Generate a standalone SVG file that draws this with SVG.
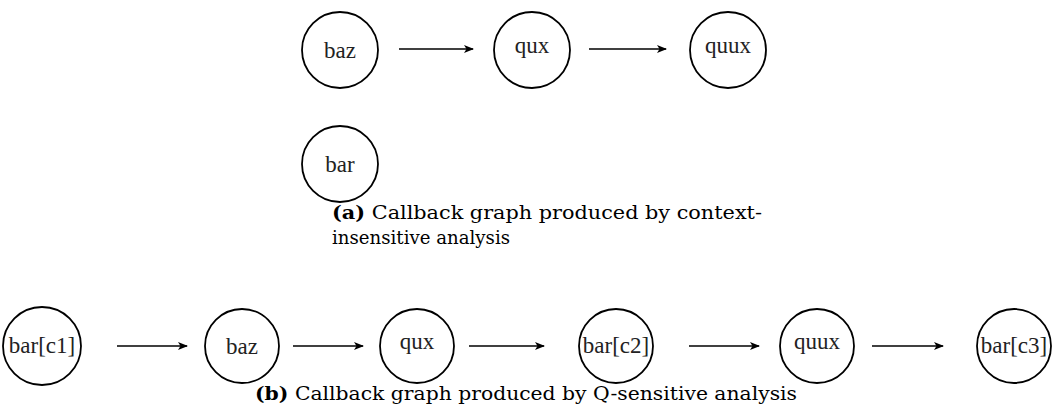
<svg xmlns="http://www.w3.org/2000/svg" width="1057" height="412" viewBox="0 0 1057 412">
<style>
.node circle { fill: #fff; stroke: #000; stroke-width: 1.8; }
.node text { font-family: "Liberation Serif", "Times New Roman", serif; font-size: 23px; fill: #222; text-anchor: middle; }
.edge { stroke: #000; stroke-width: 1.5; fill: none; marker-end: url(#ah); }
.cap { font-family: "DejaVu Serif", serif; font-size: 18.5px; fill: #000; }
.cap .b { font-weight: bold; }
</style>
<defs>
<marker id="ah" viewBox="0 0 10 8" refX="9" refY="4" markerWidth="10" markerHeight="8" markerUnits="userSpaceOnUse" orient="auto">
<path d="M0,0 L10,4 L0,8 L2.5,4 z" fill="#000"/>
</marker>
</defs>
<rect width="1057" height="412" fill="#fff"/>
<g id="connectors">
<line class="edge" x1="399" y1="49" x2="473" y2="49"/>
<line class="edge" x1="589" y1="49" x2="666" y2="49"/>
<line class="edge" x1="117" y1="346" x2="187" y2="346"/>
<line class="edge" x1="293" y1="346" x2="363" y2="346"/>
<line class="edge" x1="469" y1="346" x2="544" y2="346"/>
<line class="edge" x1="689" y1="346" x2="759" y2="346"/>
<line class="edge" x1="872" y1="346" x2="943" y2="346"/>
</g>
<g id="a-baz" class="node"><circle cx="340" cy="50" r="38"/><text x="340" y="58">baz</text></g>
<g id="a-qux" class="node"><circle cx="532" cy="50" r="38"/><text x="532" y="53">qux</text></g>
<g id="a-quux" class="node"><circle cx="728" cy="50" r="38"/><text x="728" y="53">quux</text></g>
<g id="a-bar" class="node"><circle cx="340" cy="164" r="38"/><text x="340" y="172">bar</text></g>
<text class="cap" x="332" y="219" textLength="430" lengthAdjust="spacingAndGlyphs"><tspan class="b">(a)</tspan> Callback graph produced by context-</text>
<text class="cap" x="332" y="244" textLength="178" lengthAdjust="spacingAndGlyphs">insensitive analysis</text>
<g id="b-bar-c1" class="node"><circle cx="42" cy="346" r="39"/><text x="42" y="353">bar[c1]</text></g>
<g id="b-baz" class="node"><circle cx="242" cy="346" r="37"/><text x="242" y="354">baz</text></g>
<g id="b-qux" class="node"><circle cx="417" cy="346" r="37"/><text x="417" y="349">qux</text></g>
<g id="b-bar-c2" class="node"><circle cx="616" cy="346" r="37"/><text x="616" y="353">bar[c2]</text></g>
<g id="b-quux" class="node"><circle cx="817" cy="346" r="37"/><text x="817" y="349">quux</text></g>
<g id="b-bar-c3" class="node"><circle cx="1014" cy="346" r="37"/><text x="1014" y="353">bar[c3]</text></g>
<text class="cap" x="255" y="400" textLength="542" lengthAdjust="spacingAndGlyphs"><tspan class="b">(b)</tspan> Callback graph produced by Q-sensitive analysis</text>
</svg>
